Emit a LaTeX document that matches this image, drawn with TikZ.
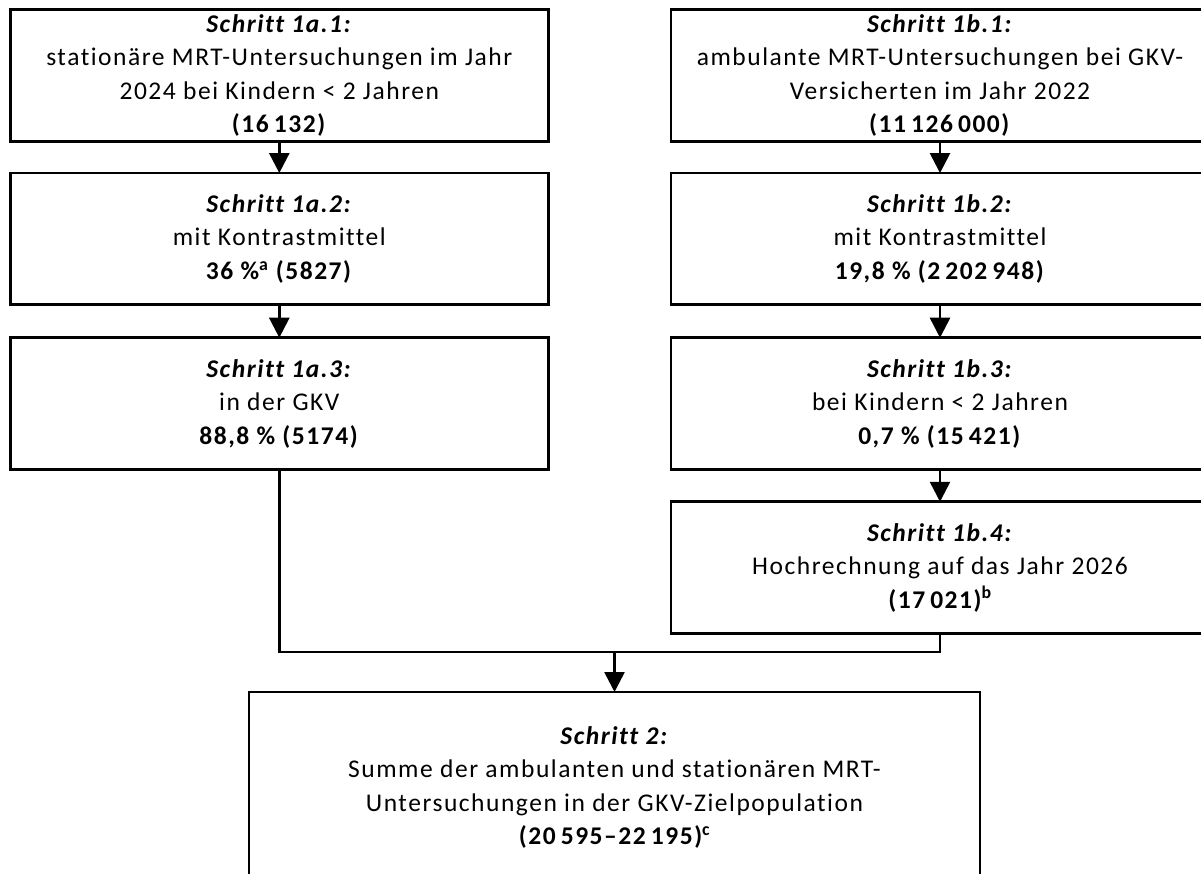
\documentclass[tikz,border=0pt]{standalone}
\usepackage{fontspec}
\setmainfont{Carlito}[LetterSpace=6,Ligatures=CommonOff]
\usetikzlibrary{arrows.meta}
\newcommand{\nsp}{\hspace{0.2em}}
\begin{document}
\begin{tikzpicture}[x=1pt,y=-1pt,
  box/.style={draw, line width=2.8pt, minimum width=538pt, minimum height=131.5pt,
    align=center, inner sep=0pt, outer sep=0pt, font=\fontsize{25.5}{33.5}\selectfont},
  link/.style={line width=2.6pt},
  arr/.style={link, -{Triangle[width=20pt,length=20pt]}}]
\useasboundingbox (0,0) rectangle (1201,874);
\clip (0,0) rectangle (1201,874);

\node[box] (a1) at (279.3,75.4) {\textbf{\textit{Schritt 1a.1:}}\\stationäre MRT-Untersuchungen im Jahr\\2024 bei Kindern < 2 Jahren\\\textbf{(16\nsp 132)}};
\node[box] (a2) at (279.3,238.8) {\textbf{\textit{Schritt 1a.2:}}\\mit Kontrastmittel\\\textbf{36 \%\textsuperscript{a} (5827)}};
\node[box] (a3) at (279.3,403.5) {\textbf{\textit{Schritt 1a.3:}}\\in der GKV\\\textbf{88,8 \% (5174)}};

\node[box] (b1) at (940,75.4) {\textbf{\textit{Schritt 1b.1:}}\\ambulante MRT-Untersuchungen bei GKV-\\Versicherten im Jahr 2022\\\textbf{(11\nsp 126\nsp 000)}};
\node[box] (b2) at (940,238.8) {\textbf{\textit{Schritt 1b.2:}}\\mit Kontrastmittel\\\textbf{19,8 \% (2\nsp 202\nsp 948)}};
\node[box] (b3) at (940,403.5) {\textbf{\textit{Schritt 1b.3:}}\\bei Kindern < 2 Jahren\\\textbf{0,7 \% (15\nsp 421)}};
\node[box] (b4) at (940,567.5) {\textbf{\textit{Schritt 1b.4:}}\\Hochrechnung auf das Jahr 2026\\\textbf{(17\nsp 021)\textsuperscript{b}}};

\node[box, minimum width=731pt, minimum height=191pt] (c) at (614.5,787.5) {\textbf{\textit{Schritt 2:}}\\Summe der ambulanten und stationären MRT-\\Untersuchungen in der GKV-Zielpopulation\\\textbf{(20\nsp 595–22\nsp 195)\textsuperscript{c}}};

\coordinate (m) at (614.5,652);

\draw[arr] (a1) -- (a2);
\draw[arr] (a2) -- (a3);
\draw[arr] (b1) -- (b2);
\draw[arr] (b2) -- (b3);
\draw[arr] (b3) -- (b4);
\draw[link] (a3.south) -- (a3.south |- m) -- (b4.south |- m) -- (b4.south);
\draw[arr] (m) -- (c.north);
\end{tikzpicture}
\end{document}
